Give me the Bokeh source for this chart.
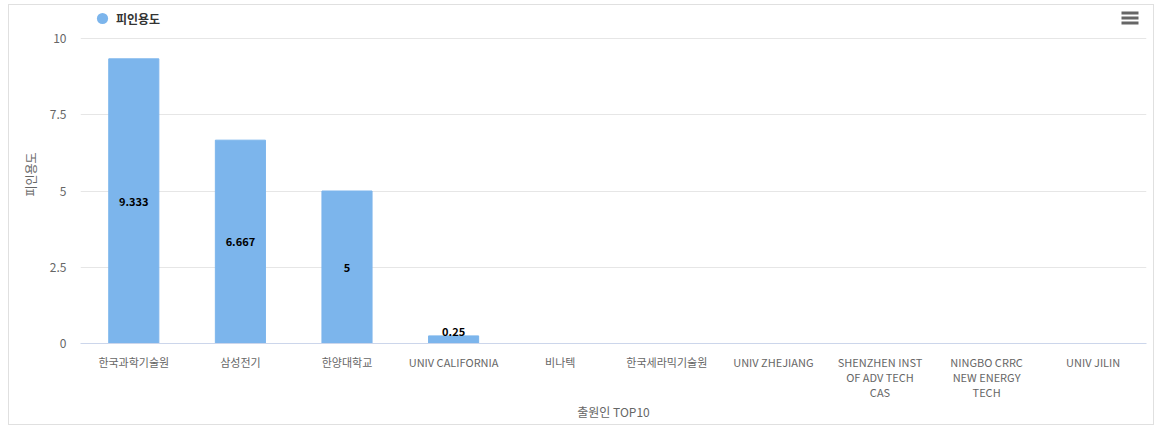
from bokeh.plotting import figure
from bokeh.models import (ColumnDataSource, Legend, LegendItem, BoxAnnotation,
                          Range1d, FixedTicker)
from bokeh.embed import file_html
from bokeh.resources import INLINE
from bokeh.core.properties import value

# ---- data ----
categories = ["한국과학기술원", "삼성전기", "한양대학교", "UNIV CALIFORNIA", "비나텍",
              "한국세라믹기술원", "UNIV ZHEJIANG", "SHENZHEN INST OF ADV TECH CAS",
              "NINGBO CRRC NEW ENERGY TECH", "UNIV JILIN"]
tick_labels = ["한국과학기술원", "삼성전기", "한양대학교", "UNIV CALIFORNIA", "비나텍",
               "한국세라믹기술원", "UNIV ZHEJIANG", "SHENZHEN INST\nOF ADV TECH\nCAS",
               "NINGBO CRRC\nNEW ENERGY\nTECH", "UNIV JILIN"]
citation = [9.333, 6.667, 5, 0.25, 0, 0, 0, 0, 0, 0]
series_name = "피인용도"
x_title = "출원인 TOP10"
y_title = "피인용도"
y_ticks = [0, 2.5, 5, 7.5, 10]

FONT = "Noto Sans CJK KR"
BAR = "#7cb5ec"
GREY = "#666666"

# canvas placed inside a 1px border at window (8, 4)
OX, OY = 9, 5
CW, CH = 1146, 421
FRAME_LEFT, FRAME_RIGHT = 80 - OX, 1146 - OX     # canvas pixels
FRAME_TOP, FRAME_BOTTOM = 4 - OY + 1, 343 - OY
PX_PER_UNIT = 30.5
y_end = (FRAME_BOTTOM - FRAME_TOP) / PX_PER_UNIT

idx = list(range(len(categories)))

p = figure(width=CW, height=CH, x_range=Range1d(-0.5, len(categories) - 0.5),
           y_range=Range1d(0, y_end), output_backend="svg", toolbar_location=None,
           min_border_left=FRAME_LEFT, min_border_right=CW - FRAME_RIGHT,
           min_border_top=FRAME_TOP, min_border_bottom=CH - FRAME_BOTTOM)
p.margin = (4, 0, 0, 8)
p.styles = {"border": "1px solid #e0e0e0"}
p.outline_line_color = None
p.background_fill_color = "white"

src = ColumnDataSource(dict(x=idx, cat=categories, val=citation))
bars = p.vbar(x="x", top="val", width=0.47, source=src, fill_color=BAR,
              line_color=BAR)

# data labels
lab_x, lab_y, lab_t, lab_b = [], [], [], []
for i, v in zip(idx, citation):
    if v <= 0:
        continue
    lab_x.append(i)
    lab_t.append(f"{v:g}")
    if v > 1:
        lab_y.append(v / 2)
        lab_b.append("middle")
    else:
        lab_y.append(v)
        lab_b.append("bottom")
lsrc = ColumnDataSource(dict(x=lab_x, y=lab_y, t=lab_t, b=lab_b))
p.text(x="x", y="y", text="t", source=lsrc, text_align="center",
       text_baseline="b", text_font=value(FONT), text_font_size="11px",
       text_font_style="bold", text_color="#000000")

# legend (circle marker)
marker = p.scatter(x="x", y="val", source=src, marker="circle", size=0,
                   fill_color=BAR, line_color=None)
legend = Legend(items=[LegendItem(label=series_name, renderers=[marker])],
                orientation="horizontal",
                location=(8, (FRAME_BOTTOM - FRAME_TOP) - 28 + 1),
                glyph_width=28, glyph_height=28, label_standoff=0,
                label_text_font=FONT, label_text_font_size="12px",
                label_text_font_style="bold", label_text_color="#333333",
                background_fill_alpha=0, border_line_color=None,
                margin=0, padding=0)
p.add_layout(legend)

# x axis
p.xaxis.ticker = FixedTicker(ticks=idx)
p.xaxis.major_label_overrides = {i: t for i, t in zip(idx, tick_labels)}
p.xaxis.axis_label = x_title
p.xaxis.axis_label_text_font = FONT
p.xaxis.axis_label_text_font_size = "12px"
p.xaxis.axis_label_text_font_style = "normal"
p.xaxis.axis_label_text_color = GREY
p.xaxis.axis_label_standoff = 0
p.xaxis.major_label_text_font = FONT
p.xaxis.major_label_text_font_size = "11px"
p.xaxis.major_label_text_color = GREY
p.xaxis.major_label_text_line_height = 0.95
p.xaxis.major_label_standoff = 10
p.xaxis.major_tick_out = 0
p.xaxis.major_tick_line_color = None
p.xaxis.minor_tick_line_color = None
p.xaxis.axis_line_color = "#ccd6eb"
p.xgrid.grid_line_color = None

# y axis
p.yaxis.ticker = y_ticks
p.yaxis.axis_label = y_title
p.yaxis.axis_label_text_font = FONT
p.yaxis.axis_label_text_font_size = "12px"
p.yaxis.axis_label_text_font_style = "normal"
p.yaxis.axis_label_text_color = GREY
p.yaxis.axis_label_standoff = 8
p.yaxis.major_label_text_font = FONT
p.yaxis.major_label_text_font_size = "12px"
p.yaxis.major_label_text_color = GREY
p.yaxis.major_label_standoff = 14
p.yaxis.major_tick_out = 0
p.yaxis.major_tick_line_color = None
p.yaxis.minor_tick_line_color = None
p.yaxis.axis_line_color = None
p.ygrid.grid_line_color = "#e6e6e6"

# context menu icon (screen units relative to the frame, y up)
fb_win = FRAME_BOTTOM + OY
fl_win = FRAME_LEFT + OX
for top in (11, 16, 21):
    p.add_layout(BoxAnnotation(left=1121 - fl_win, right=1138 - fl_win,
                               top=fb_win - top, bottom=fb_win - top - 3,
                               left_units="screen", right_units="screen",
                               top_units="screen", bottom_units="screen",
                               fill_color=GREY, fill_alpha=1, line_color=None))

open("out.html", "w").write(file_html(p, INLINE))
